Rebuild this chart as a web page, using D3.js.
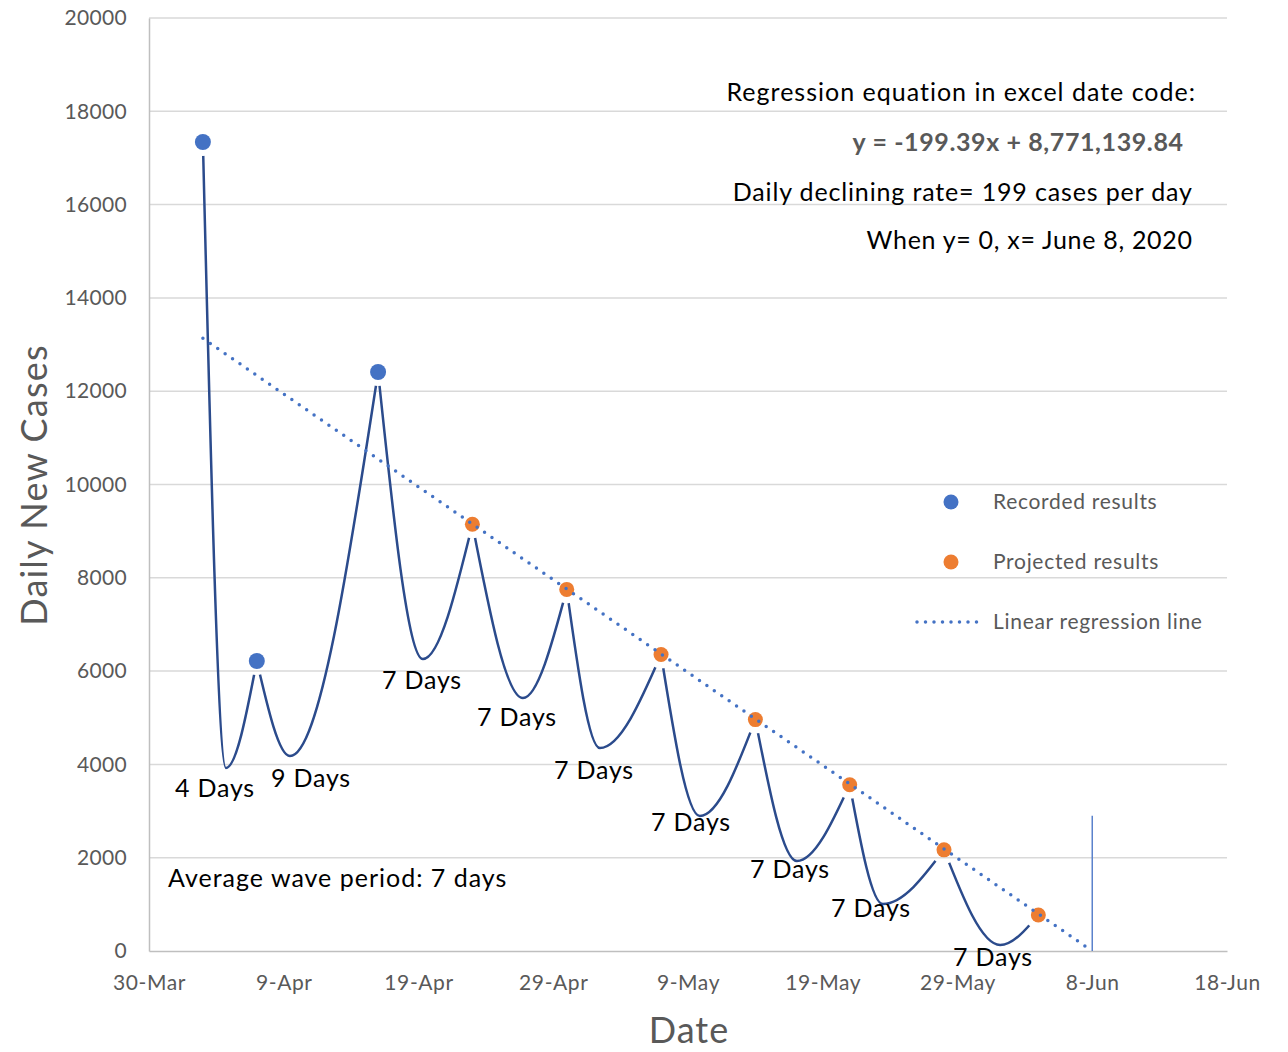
<!DOCTYPE html>
<html>
<head>
<meta charset="utf-8">
<script src="https://cdn.jsdelivr.net/npm/d3@7"></script>
<style>
  body { margin: 0; background: #fff; }
  svg text { font-family: Lato, "Open Sans", sans-serif; }
</style>
</head>
<body>
<div id="chart"></div>
<script>
// chart data
const recordedDates = ["2020-04-03", "2020-04-07", "2020-04-16"];
const recordedValues = [17342, 6216, 12412];

const projectedDates = ["2020-04-23", "2020-04-30", "2020-05-07", "2020-05-14", "2020-05-21", "2020-05-28", "2020-06-04"];
const projectedValues = [9147, 7751, 6356, 4960, 3564, 2168, 773];

// lowest point of each wave between two peaks
const troughDates = ["2020-04-04T17:00", "2020-04-09T11:00", "2020-04-19T08:00", "2020-04-26T18:00",
    "2020-05-02T11:00", "2020-05-09T21:00", "2020-05-17T02:00", "2020-05-23T11:00", "2020-06-01T04:00"];
const troughValues = [3923, 4180, 6259, 5423, 4352, 2894, 1929, 1007, 129];

const waveLabels = ["4 Days", "9 Days", "7 Days", "7 Days", "7 Days", "7 Days", "7 Days", "7 Days", "7 Days"];

// regression line y = -199.39x + 8,771,139.84
const regressionDates = ["2020-04-03", "2020-06-08"];
const regressionValues = [13133, 0];

// marker at the zero crossing
const cutoffDate = "2020-06-08";
const cutoffTop = 2900;

const yTicks = [0, 2000, 4000, 6000, 8000, 10000, 12000, 14000, 16000, 18000, 20000];
const xTickDates = ["2020-03-30", "2020-04-09", "2020-04-19", "2020-04-29", "2020-05-09", "2020-05-19", "2020-05-29", "2020-06-08", "2020-06-18"];

const noteLines = ["Regression equation in excel date code:", "y = -199.39x + 8,771,139.84",
    "Daily declining rate= 199 cases per day", "When y= 0, x= June 8, 2020"];
const legendLabels = ["Recorded results", "Projected results", "Linear regression line"];

const width = 1288, height = 1052;
const margin = { top: 18, right: 61, bottom: 101, left: 149 };

const parse = s => new Date(s + (s.length > 10 ? ":00Z" : "T00:00:00Z"));
const fmt = d3.utcFormat("%-d-%b");

const svg = d3.select("#chart").append("svg")
    .attr("width", width)
    .attr("height", height);

const x = d3.scaleUtc()
    .domain([parse("2020-03-30"), parse("2020-06-18")])
    .range([margin.left, width - margin.right]);

const y = d3.scaleLinear()
    .domain([0, 20000])
    .range([height - margin.bottom, margin.top]);

// gridlines
svg.append("g")
    .selectAll("line")
    .data(yTicks.filter(d => d > 0))
    .join("line")
    .attr("x1", x.range()[0])
    .attr("x2", x.range()[1])
    .attr("y1", d => y(d))
    .attr("y2", d => y(d))
    .attr("stroke", "#d9d9d9")
    .attr("stroke-width", 1.5);

// y axis
const yAxis = svg.append("g")
    .attr("transform", `translate(${margin.left},0)`)
    .call(d3.axisLeft(y).tickValues(yTicks).tickSize(0).tickPadding(22).tickFormat(d3.format("d")));
yAxis.select(".domain").attr("stroke", "#bfbfbf").attr("stroke-width", 1.5);
yAxis.selectAll("text").attr("fill", "#595959").style("font-size", "21px").style("letter-spacing", "0.3px");

// x axis
const xAxis = svg.append("g")
    .attr("transform", `translate(0,${y(0)})`)
    .call(d3.axisBottom(x).tickValues(xTickDates.map(parse)).tickSize(0).tickPadding(24).tickFormat(fmt));
xAxis.select(".domain").attr("stroke", "#bfbfbf").attr("stroke-width", 1.5);
xAxis.selectAll("text").attr("fill", "#595959").style("font-size", "21px").style("letter-spacing", "0.6px");

// axis titles
svg.append("text")
    .attr("transform", `translate(47,485) rotate(-90)`)
    .attr("text-anchor", "middle")
    .attr("fill", "#595959")
    .style("font-size", "36px")
    .style("letter-spacing", "1.2px")
    .text("Daily New Cases");

svg.append("text")
    .attr("x", 689)
    .attr("y", 1043)
    .attr("text-anchor", "middle")
    .attr("fill", "#595959")
    .style("font-size", "36px")
    .style("letter-spacing", "1px")
    .text("Date");

// all the peaks in order, recorded then projected
const peaks = recordedDates.map((d, i) => [parse(d), recordedValues[i]])
    .concat(projectedDates.map((d, i) => [parse(d), projectedValues[i]]));

// mask to leave a small gap around each peak marker
const mask = svg.append("defs").append("mask").attr("id", "peakGap");
mask.append("rect").attr("width", width).attr("height", height).attr("fill", "white");
mask.selectAll("circle")
    .data(peaks)
    .join("circle")
    .attr("cx", d => x(d[0]))
    .attr("cy", d => y(d[1]))
    .attr("r", 14)
    .attr("fill", "black");

const waveLine = d3.line()
    .x(d => x(d[0]))
    .y(d => y(d[1]))
    .curve(d3.curveMonotoneX);

const waves = troughDates.map((d, i) => [peaks[i], [parse(d), troughValues[i]], peaks[i + 1]]);

svg.append("g")
    .attr("mask", "url(#peakGap)")
    .selectAll("path")
    .data(waves)
    .join("path")
    .attr("d", waveLine)
    .attr("fill", "none")
    .attr("stroke", "#2b4b8c")
    .attr("stroke-width", 2.5);

// zero crossing marker
svg.append("line")
    .attr("x1", x(parse(cutoffDate)))
    .attr("x2", x(parse(cutoffDate)))
    .attr("y1", y(0))
    .attr("y2", y(cutoffTop))
    .attr("stroke", "#5b82cc")
    .attr("stroke-width", 1.5);

// points
svg.append("g")
    .selectAll("circle")
    .data(projectedDates)
    .join("circle")
    .attr("cx", d => x(parse(d)))
    .attr("cy", (d, i) => y(projectedValues[i]))
    .attr("r", 7.5)
    .attr("fill", "#ed7d31");

svg.append("g")
    .selectAll("circle")
    .data(recordedDates)
    .join("circle")
    .attr("cx", d => x(parse(d)))
    .attr("cy", (d, i) => y(recordedValues[i]))
    .attr("r", 8)
    .attr("fill", "#4472c4");

// regression line, drawn over the orange markers
svg.append("path")
    .datum(regressionDates.map((d, i) => [parse(d), regressionValues[i]]))
    .attr("d", d3.line().x(d => x(d[0])).y(d => y(d[1])))
    .attr("fill", "none")
    .attr("stroke", "#4472c4")
    .attr("stroke-width", 3.5)
    .attr("stroke-linecap", "round")
    .attr("stroke-dasharray", "0 9");

// wave period labels
const labelPos = [[215, 797], [311, 787], [422, 689], [517, 726], [594, 779], [691, 831], [790, 878], [871, 917], [993, 966]];
svg.append("g")
    .selectAll("text")
    .data(waveLabels)
    .join("text")
    .attr("x", (d, i) => labelPos[i][0])
    .attr("y", (d, i) => labelPos[i][1])
    .attr("text-anchor", "middle")
    .attr("fill", "#000")
    .style("font-size", "25px")
    .style("letter-spacing", "0.8px")
    .text(d => d);

svg.append("text")
    .attr("x", 168)
    .attr("y", 887)
    .attr("fill", "#000")
    .style("font-size", "25px")
    .style("letter-spacing", "1px")
    .text("Average wave period: 7 days");

// regression notes
const notePos = [[1195, 101], [1183, 151], [1192, 201], [1192, 249]];
const noteSpacing = [1, 0.6, 0.85, 0.7];
svg.append("g")
    .selectAll("text")
    .data(noteLines)
    .join("text")
    .attr("x", (d, i) => notePos[i][0] + noteSpacing[i])
    .attr("y", (d, i) => notePos[i][1])
    .attr("text-anchor", "end")
    .attr("fill", (d, i) => i === 1 ? "#595959" : "#000")
    .style("font-weight", (d, i) => i === 1 ? "bold" : "normal")
    .style("font-size", "25px")
    .style("letter-spacing", (d, i) => noteSpacing[i] + "px")
    .text(d => d);

// legend
const legend = svg.append("g").attr("transform", "translate(951,502)");
const legendRow = legend.selectAll("g")
    .data(legendLabels)
    .join("g")
    .attr("transform", (d, i) => `translate(0,${i * 60})`);

legendRow.filter((d, i) => i < 2)
    .append("circle")
    .attr("r", 7.5)
    .attr("fill", (d, i) => i === 0 ? "#4472c4" : "#ed7d31");

legendRow.filter((d, i) => i === 2)
    .append("line")
    .attr("x1", -34)
    .attr("x2", 34)
    .attr("stroke", "#4472c4")
    .attr("stroke-width", 3.5)
    .attr("stroke-linecap", "round")
    .attr("stroke-dasharray", "0 8.5");

legendRow.append("text")
    .attr("x", 42)
    .attr("y", 7)
    .attr("fill", "#595959")
    .style("font-size", "21px")
    .style("letter-spacing", "0.7px")
    .text(d => d);
</script>
</body>
</html>
